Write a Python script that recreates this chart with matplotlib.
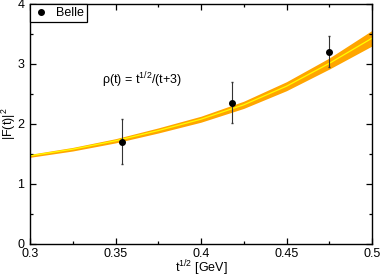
import matplotlib
matplotlib.use("Agg")
import matplotlib.pyplot as plt
from matplotlib.ticker import MultipleLocator
from matplotlib.lines import Line2D

plt.rcParams['font.family'] = ['Liberation Sans', 'DejaVu Sans']
plt.rcParams['mathtext.default'] = 'regular'

# Belle data
belle_x = [0.3536, 0.4183, 0.4747]
belle_y = [1.705, 2.355, 3.205]
belle_err_lo = [0.375, 0.345, 0.26]
belle_err_hi = [0.375, 0.345, 0.255]

# fit band
band_x = [0.300, 0.325, 0.350, 0.375, 0.400, 0.425, 0.450, 0.475, 0.500]
band_c = [1.47, 1.58, 1.72, 1.89, 2.08, 2.32, 2.63, 3.01, 3.43]
band_lo = [1.445, 1.55, 1.685, 1.85, 2.03, 2.26, 2.555, 2.915, 3.30]
band_hi = [1.495, 1.61, 1.755, 1.935, 2.13, 2.38, 2.705, 3.10, 3.56]

fig = plt.figure(figsize=(3.82, 2.77), dpi=100)
ax = fig.add_axes([30/382, 33/277, 342/382, 240/277])

ax.fill_between(band_x, band_lo, band_hi, color='#FFA500', linewidth=0, zorder=1)
ax.plot(band_x, band_c, color='#FFFF00', linewidth=0.9, zorder=2)

ax.errorbar(belle_x, belle_y, yerr=[belle_err_lo, belle_err_hi], fmt='o', color='black',
            ecolor='#333333', elinewidth=0.8, capsize=1.0, markersize=4, zorder=3)

ax.set_xlim(0.3, 0.5)
ax.set_ylim(0, 4)
ax.xaxis.set_major_locator(MultipleLocator(0.05))
ax.xaxis.set_minor_locator(MultipleLocator(0.025))
ax.yaxis.set_major_locator(MultipleLocator(1))
ax.yaxis.set_minor_locator(MultipleLocator(0.5))
ax.set_xticks([0.3, 0.35, 0.4, 0.45, 0.5])
ax.set_xticklabels(['0.3', '0.35', '0.4', '0.45', '0.5'])
ax.tick_params(which='both', direction='in', top=True, right=True, labelsize=9, width=0.9)
ax.tick_params(axis='x', pad=3)
ax.tick_params(axis='y', pad=4)
ax.tick_params(which='major', length=4.3)
ax.tick_params(which='minor', length=2.5)
for s in ax.spines.values():
    s.set_linewidth(1.0)

ax.set_xlabel('t$^{1/2}$ [GeV]', fontsize=9, va='top')
ax.xaxis.set_label_coords(0.5, -0.062)
ax.set_ylabel('|F(t)|$^{2}$', fontsize=9, va='center')
ax.yaxis.set_label_coords(-0.061, 0.5)

ax.text(0.342, 2.73, 'ρ(t) = t$^{1/2}$/(t+3)', fontsize=9, va='center', ha='left')

handle = Line2D([], [], marker='o', color='black', linestyle='none', markersize=4)
leg = ax.legend([handle], ['Belle'], loc='upper left', frameon=True, fancybox=False, fontsize=9,
                borderaxespad=0, handlelength=1.2, handletextpad=0.6, borderpad=0.25,
                edgecolor='black', framealpha=1)
leg.get_frame().set_linewidth(0.9)

fig.savefig('out.png', dpi=100)
